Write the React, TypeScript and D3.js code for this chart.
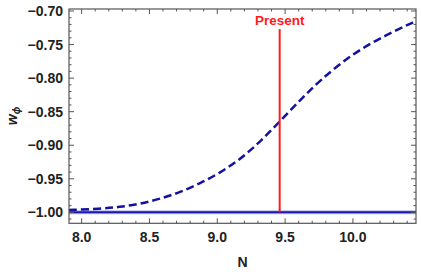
import React from "react";
import * as d3 from "d3";

const curveN = [7.907, 8.136, 8.283, 8.431, 8.578, 8.726, 8.873, 9.021, 9.168, 9.316, 9.463, 9.61, 9.758, 10.0, 10.25, 10.465];
const curveW = [-0.9966, -0.9947, -0.992, -0.9875, -0.980, -0.970, -0.957, -0.941, -0.921, -0.895, -0.864, -0.833, -0.803, -0.763, -0.735, -0.715];
const xTicks = [8.0, 8.5, 9.0, 9.5, 10.0];
const yTicks = [-1.0, -0.95, -0.9, -0.85, -0.8, -0.75, -0.7];
const presentN = 9.46;
const presentTop = -0.727;
const baselineW = -1.0;

const W = 421, H = 272;
const L = 69, R = 416, T = 9, B = 223.3;

export default function App() {
  const x = d3.scaleLinear().domain([7.907, 10.465]).range([L, R]);
  const y = d3.scaleLinear().domain([-1.0163, -0.697]).range([B, T]);
  const pts: [number, number][] = curveN.map((n, i) => [n, curveW[i]]);
  const line = d3.line<[number, number]>().x(d => x(d[0])).y(d => y(d[1])).curve(d3.curveBasis);
  const xMinor = d3.range(7.9, 10.46, 0.1).filter(v => v >= 7.907 && Math.abs(v * 2 - Math.round(v * 2)) > 0.01);
  const yMinor = d3.range(-1.01, -0.697, 0.01).filter(v => Math.abs(v * 20 - Math.round(v * 20)) > 0.01);
  const fmt = (v: number) => (v < 0 ? "\u2212" : "") + Math.abs(v).toFixed(2);
  const tickColor = "#555";
  const font = "Liberation Sans, Arial, sans-serif";
  return (
    <svg width={W} height={H} style={{ position: "absolute", left: 0, top: 0 }} fontFamily={font}>
      <rect x={0} y={0} width={W} height={H} fill="white" />
      {/* baseline w=-1 */}
      <line x1={L} x2={R} y1={y(baselineW)} y2={y(baselineW)} stroke="#b8b8e8" strokeWidth={4} />
      <line x1={L} x2={R} y1={y(baselineW)} y2={y(baselineW)} stroke="#1a1aa6" strokeWidth={2} />
      {/* dashed curve */}
      <path d={line(pts) || ""} fill="none" stroke="#1212a0" strokeWidth={2.5} strokeDasharray="8,4" />
      {/* present line */}
      <line x1={x(presentN)} x2={x(presentN)} y1={y(baselineW)} y2={y(presentTop)} stroke="#ff1a1a" strokeWidth={2} />
      <text x={x(presentN)} y={25} textAnchor="middle" fontSize={13.5} fontWeight="bold" fill="#ff1a1a">Present</text>
      {/* frame */}
      <rect x={L} y={T} width={R - L} height={B - T} fill="none" stroke={tickColor} strokeWidth={1.2} />
      {/* x ticks */}
      {xTicks.map(v => (
        <g key={"xt" + v}>
          <line x1={x(v)} x2={x(v)} y1={B} y2={B - 5} stroke={tickColor} />
          <line x1={x(v)} x2={x(v)} y1={T} y2={T + 5} stroke={tickColor} />
          <text x={x(v)} y={242} textAnchor="middle" fontSize={14} fontWeight="bold" fill="#222">{v.toFixed(1)}</text>
        </g>
      ))}
      {xMinor.map(v => (
        <g key={"xm" + v}>
          <line x1={x(v)} x2={x(v)} y1={B} y2={B - 2.5} stroke={tickColor} />
          <line x1={x(v)} x2={x(v)} y1={T} y2={T + 2.5} stroke={tickColor} />
        </g>
      ))}
      {yTicks.map(v => (
        <g key={"yt" + v}>
          <line x1={L} x2={L + 5} y1={y(v)} y2={y(v)} stroke={tickColor} />
          <line x1={R} x2={R - 5} y1={y(v)} y2={y(v)} stroke={tickColor} />
          <text x={63} y={y(v) + 5} textAnchor="end" fontSize={14} fontWeight="bold" fill="#222">{fmt(v)}</text>
        </g>
      ))}
      {yMinor.map(v => (
        <g key={"ym" + v}>
          <line x1={L} x2={L + 2.5} y1={y(v)} y2={y(v)} stroke={tickColor} />
          <line x1={R} x2={R - 2.5} y1={y(v)} y2={y(v)} stroke={tickColor} />
        </g>
      ))}
      {/* axis labels */}
      <text x={(L + R) / 2} y={267} textAnchor="middle" fontSize={14} fontWeight="bold" fill="#222">N</text>
      <text transform="translate(17,116) rotate(-90)" textAnchor="middle" fontSize={14} fontWeight="bold" fontStyle="italic" fill="#222">
        w<tspan fontSize={10} dy={3}>ϕ</tspan>
      </text>
    </svg>
  );
}
